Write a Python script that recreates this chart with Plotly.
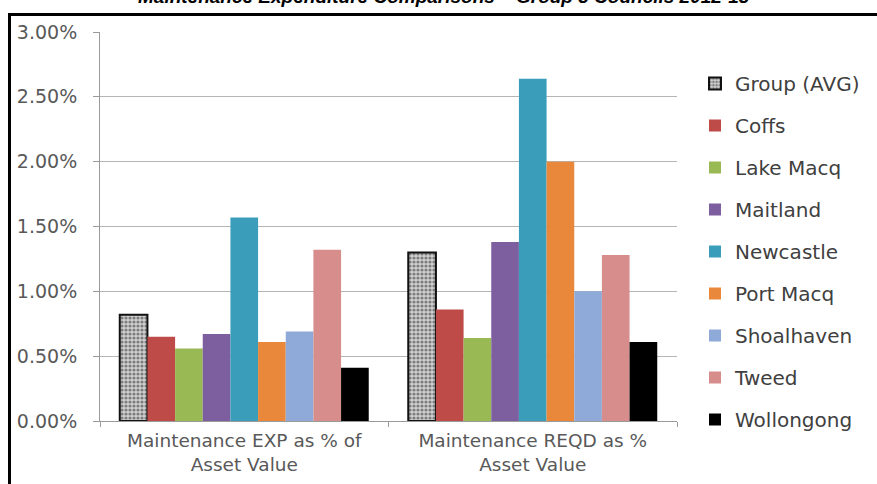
import plotly.graph_objects as go

# Category labels on the x axis
categories = [
    "Maintenance EXP as % of<br>Asset Value",
    "Maintenance REQD as %<br>Asset Value",
]

# Council series (values in percent)
councils = ["Group (AVG)", "Coffs", "Lake Macq", "Maitland", "Newcastle",
            "Port Macq", "Shoalhaven", "Tweed", "Wollongong"]
exp_pct = [0.82, 0.65, 0.56, 0.67, 1.57, 0.61, 0.69, 1.32, 0.41]
reqd_pct = [1.30, 0.86, 0.64, 1.38, 2.64, 2.00, 1.00, 1.28, 0.61]

colors = ["#8a8a8a", "#BE4B48", "#98B954", "#7D5FA0", "#3A9EBA",
          "#E9883A", "#8FAAD9", "#D68D8C", "#000000"]

# Y axis ticks
y_ticks = [0, 0.5, 1.0, 1.5, 2.0, 2.5, 3.0]
y_tick_text = ["0.00%", "0.50%", "1.00%", "1.50%", "2.00%", "2.50%", "3.00%"]

title_text = "Maintenance Expenditure Comparisons \u2013 Group 3 Councils 2012-13"

W, H = 877, 484
L, R, T, B = 100, 200, 32, 63
pw, ph = W - L - R, H - T - B


def px_x(p):
    return (p - L) / pw


def px_y(p):
    return (H - B - p) / ph


FONT = "DejaVu Sans"
TXT = "#595959"

fig = go.Figure()
for i, name in enumerate(councils):
    marker = dict(color=colors[i], line=dict(width=0))
    if i == 0:
        marker = dict(
            color="#cfcfcf",
            line=dict(color="#111111", width=2),
            pattern=dict(shape=".", fgcolor="#2a2a2a", bgcolor="#d0d0d0",
                         size=4, solidity=0.5),
        )
    fig.add_trace(go.Bar(
        name=name,
        x=categories,
        y=[exp_pct[i], reqd_pct[i]],
        marker=marker,
        legendgroup=name,
    ))

fig.update_layout(
    width=W, height=H,
    margin=dict(l=L, r=R, t=T, b=B, pad=0, autoexpand=False),
    paper_bgcolor="white",
    plot_bgcolor="white",
    barmode="group",
    bargap=0.137,
    bargroupgap=0,
    font=dict(family=FONT, color=TXT),
    showlegend=True,
    legend=dict(
        x=px_x(695), y=px_y(64), xanchor="left", yanchor="top",
        font=dict(family=FONT, size=20, color="#404040"),
        tracegroupgap=13,
        maxheight=470,
        itemsizing="constant",
        bgcolor="rgba(0,0,0,0)",
    ),
    xaxis=dict(
        automargin=False,
        showgrid=False,
        showline=True, linecolor="#9a9a9a", linewidth=1,
        ticks="outside", tickson="boundaries", ticklen=5, tickcolor="#9a9a9a",
        ticklabelstandoff=3,
        tickfont=dict(family=FONT, size=18.5, color=TXT),
        range=[-0.5, 1.5],
    ),
    yaxis=dict(
        automargin=False,
        range=[0, 3.0],
        tickvals=y_ticks, ticktext=y_tick_text,
        showgrid=True, gridcolor="#b5b5b5", gridwidth=1,
        showline=True, linecolor="#9a9a9a", linewidth=1,
        ticks="outside", ticklen=6, tickcolor="#9a9a9a",
        ticklabelstandoff=12,
        tickfont=dict(family=FONT, size=19, color=TXT),
        zeroline=False,
    ),
    shapes=[
        dict(type="line", xref="paper", yref="paper",
             x0=px_x(8), x1=px_x(900), y0=px_y(14.5), y1=px_y(14.5),
             line=dict(color="black", width=3)),
        dict(type="line", xref="paper", yref="paper",
             x0=px_x(9.5), x1=px_x(9.5), y0=px_y(13), y1=px_y(500),
             line=dict(color="black", width=3)),
    ],
    annotations=[
        dict(text="<b><i>" + title_text + "</i></b>",
             xref="paper", yref="paper", x=px_x(444), y=px_y(9),
             xanchor="center", yanchor="bottom", showarrow=False,
             font=dict(family="Liberation Sans", size=19, color="black")),
    ],
)

fig.write_html("out.html")
